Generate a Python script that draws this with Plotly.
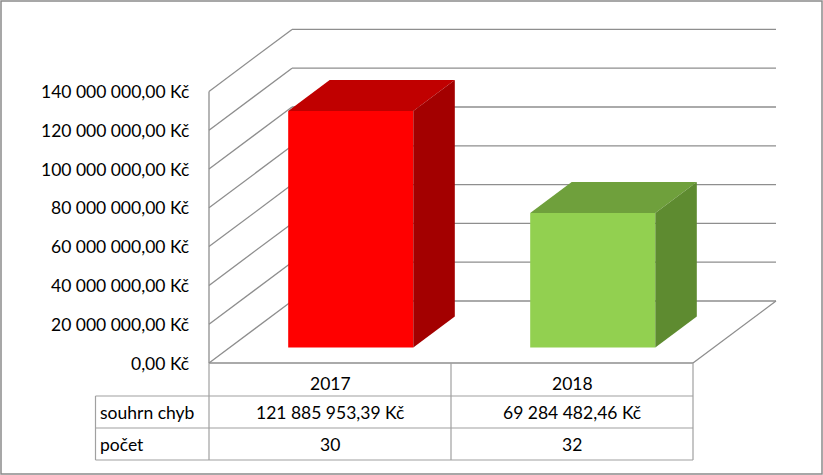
import plotly.graph_objects as go

# ---------------- data ----------------
categories = ["2017", "2018"]
souhrn_chyb = [121885953.39, 69284482.46]
pocet = [30, 32]
row_labels = ["souhrn chyb", "počet"]
tick_values = [0, 20e6, 40e6, 60e6, 80e6, 100e6, 120e6, 140e6]

front_colors = ["#FF0000", "#92D050"]
top_colors = ["#C00000", "#6FA03C"]
side_colors = ["#A30000", "#5E8B30"]

# ---------------- projection / layout constants ----------------
W, H = 823, 475
X0PX, UX = 209, 242.0          # px of category origin, px per category
Y0PX, UY = 363, 38.8 / 20e6    # px of value 0, px per Kč
DX = 83 / UX                   # depth offset in x units
DY = 62 / UY                   # depth offset in y units
BAR_W = 0.517
D0, D1 = 0.25, 0.75            # bar depth extent (fraction)
GRID = "#8E8E8E"
FONT = "Lato"
FS = 17.5


def px_x(p):
    return (p - X0PX) / UX


def px_y(p):
    return (Y0PX - p) / UY


def fmt_kc(v):
    return f"{v:,.2f}".replace(",", " ").replace(".", ",") + " Kč"


fig = go.Figure()
shapes = []
annotations = []

ymax = tick_values[-1]
ncat = len(categories)

# left wall vertical edge
shapes.append(dict(type="line", xref="x", yref="y", x0=0, y0=0, x1=0, y1=ymax,
                   line=dict(color=GRID, width=1.3), layer="below"))
for t in tick_values:
    # left wall diagonal
    shapes.append(dict(type="line", xref="x", yref="y", x0=0, y0=t, x1=DX, y1=t + DY,
                       line=dict(color=GRID, width=1.3), layer="below"))
    # back wall gridline
    shapes.append(dict(type="line", xref="x", yref="y", x0=DX, y0=t + DY, x1=ncat + DX, y1=t + DY,
                       line=dict(color=GRID, width=1.3), layer="below"))
# floor front edge and right edge
shapes.append(dict(type="line", xref="x", yref="y", x0=0, y0=0, x1=ncat, y1=0,
                   line=dict(color=GRID, width=1.3), layer="below"))
shapes.append(dict(type="line", xref="x", yref="y", x0=ncat, y0=0, x1=ncat + DX, y1=DY,
                   line=dict(color=GRID, width=1.3), layer="below"))

# bars
for i, (cat, v) in enumerate(zip(categories, souhrn_chyb)):
    cx = i + 0.5 + DX * D0
    base = DY * D0
    xl, xr = cx - BAR_W / 2, cx + BAR_W / 2
    dd = D1 - D0
    fig.add_trace(go.Bar(x=[cx], y=[v], base=[base], width=[BAR_W],
                         marker=dict(color=front_colors[i], line=dict(width=0)),
                         hoverinfo="skip", showlegend=False))
    # top face
    fig.add_trace(go.Scatter(
        x=[xl, xr, xr + DX * dd, xl + DX * dd, xl],
        y=[base + v, base + v, base + v + DY * dd, base + v + DY * dd, base + v],
        mode="lines", fill="toself", fillcolor=top_colors[i],
        line=dict(width=0, color=top_colors[i]), hoverinfo="skip", showlegend=False))
    # side face
    fig.add_trace(go.Scatter(
        x=[xr, xr, xr + DX * dd, xr + DX * dd, xr],
        y=[base, base + v, base + v + DY * dd, base + DY * dd, base],
        mode="lines", fill="toself", fillcolor=side_colors[i],
        line=dict(width=0, color=side_colors[i]), hoverinfo="skip", showlegend=False))

# y tick labels
for t in tick_values:
    annotations.append(dict(x=px_x(191), y=t, xref="x", yref="y", text=fmt_kc(t),
                            showarrow=False, xanchor="right", yanchor="middle",
                            font=dict(family=FONT, size=FS, color="#000000")))

# data table
TL = "#A0A0A0"
tab_left = px_x(95.5)
row_y = [px_y(396), px_y(428), px_y(460)]
for k, yy in enumerate(row_y):
    shapes.append(dict(type="line", xref="x", yref="y", x0=tab_left, y0=yy, x1=ncat, y1=yy,
                       line=dict(color=TL, width=1.2)))
for xx in range(ncat + 1):
    shapes.append(dict(type="line", xref="x", yref="y", x0=xx, y0=0, x1=xx, y1=row_y[-1],
                       line=dict(color=TL, width=1.2)))
shapes.append(dict(type="line", xref="x", yref="y", x0=tab_left, y0=row_y[0], x1=tab_left, y1=row_y[-1],
                   line=dict(color=TL, width=1.2)))

text_rows_y = [px_y(383), px_y(412.5), px_y(444.5)]
for i, cat in enumerate(categories):
    annotations.append(dict(x=i + 0.5, y=text_rows_y[0], xref="x", yref="y", text=cat,
                            showarrow=False, font=dict(family=FONT, size=FS, color="#000")))
    annotations.append(dict(x=i + 0.5, y=text_rows_y[1], xref="x", yref="y", text=fmt_kc(souhrn_chyb[i]),
                            showarrow=False, font=dict(family=FONT, size=FS, color="#000")))
    annotations.append(dict(x=i + 0.5, y=text_rows_y[2], xref="x", yref="y", text=str(pocet[i]),
                            showarrow=False, font=dict(family=FONT, size=FS, color="#000")))
for k, lab in enumerate(row_labels):
    annotations.append(dict(x=px_x(98), y=text_rows_y[k + 1], xref="x", yref="y", text=lab,
                            showarrow=False, xanchor="left",
                            font=dict(family=FONT, size=FS, color="#000")))

# outer border
shapes.append(dict(type="rect", xref="paper", yref="paper", x0=1 / W, y0=1 / H, x1=1 - 1 / W, y1=1 - 1 / H,
                   line=dict(color="#8A8A8A", width=1.5)))

fig.update_layout(
    width=W, height=H, margin=dict(l=0, r=0, t=0, b=0),
    paper_bgcolor="white", plot_bgcolor="white",
    xaxis=dict(range=[px_x(0), px_x(W)], visible=False, fixedrange=True),
    yaxis=dict(range=[px_y(H), px_y(0)], visible=False, fixedrange=True),
    shapes=shapes, annotations=annotations, showlegend=False, barmode="overlay",
)
fig.write_html("out.html", config={"displayModeBar": False},
               post_script="document.body.style.margin='0px';document.body.style.overflow='hidden';")
